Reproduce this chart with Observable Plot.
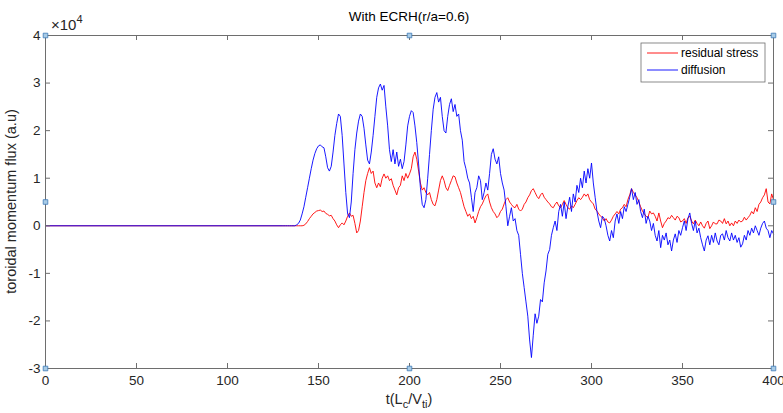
<!DOCTYPE html>
<html><head><meta charset="utf-8">
<script src="https://cdn.jsdelivr.net/npm/d3@7"></script>
<script src="https://cdn.jsdelivr.net/npm/@observablehq/plot@0.6"></script>
<style>
body{margin:0;background:#fff;font-family:"Liberation Sans",Arial,sans-serif}
#chart{width:783px;height:413px}
</style>
</head><body><div id="chart"></div>
<script>
// time grid: value at t=0, then one sample per unit from tStart to 400
const tStart = 130;
// residual stress (units of 1e4), t = 130 .. 400
const residual = [
0,0,0,0,0,0,0,0,0,0,0,0,                                  // 130-141
0.01,0.04,0.09,0.15,0.2,0.25,0.28,0.31,0.32,0.33,           // 142-151
0.3,0.31,0.26,0.24,0.21,0.22,0.15,0.1,0.02,-0.04,           // 152-161
0.02,0.06,0.02,0.1,0.2,0.27,0.2,0.22,0.05,-0.15,            // 162-171
-0.1,0.1,0.4,0.7,0.95,1.1,1.22,1.1,1.15,0.9,                // 172-181
0.8,0.9,0.82,1.0,1.09,1.0,1.05,0.95,0.99,0.85,              // 182-191
0.75,0.65,0.8,0.85,1.05,0.95,1.1,1.0,1.09,1.2,              // 192-201
1.45,1.55,1.4,1.15,0.9,0.75,0.8,0.7,0.65,0.7,               // 202-211
0.55,0.45,0.42,0.55,0.75,0.95,1.05,0.95,0.8,0.74,           // 212-221
0.85,0.95,1.05,1.03,0.9,0.8,0.7,0.55,0.4,0.3,               // 222-231
0.2,0.25,0.15,0.2,0.06,0.17,0.3,0.4,0.46,0.55,              // 232-241
0.63,0.67,0.5,0.38,0.3,0.25,0.17,0.21,0.3,0.35,             // 242-251
0.46,0.55,0.59,0.5,0.45,0.4,0.38,0.45,0.35,0.31,            // 252-261
0.35,0.45,0.5,0.59,0.65,0.74,0.78,0.7,0.62,0.57,            // 262-271
0.65,0.69,0.6,0.55,0.5,0.46,0.4,0.38,0.45,0.5,              // 272-281
0.42,0.38,0.45,0.53,0.45,0.38,0.35,0.42,0.38,0.45,          // 282-291
0.53,0.59,0.55,0.6,0.67,0.62,0.67,0.55,0.5,0.46,            // 292-301
0.35,0.31,0.25,0.2,0.17,0.1,0.15,0.08,0.06,0.12,            // 302-311
0.2,0.25,0.3,0.25,0.35,0.38,0.45,0.4,0.55,0.65,             // 312-321
0.78,0.7,0.65,0.59,0.5,0.4,0.31,0.25,0.2,0.17,              // 322-331
0.31,0.25,0.27,0.2,0.1,0.27,0.1,-0.04,0.05,0.1,             // 332-341
0.17,0.15,0.22,0.17,0.12,0.2,0.17,0.08,0.1,0.15,            // 342-351
0.05,0.17,0.2,0.1,0.04,0.12,0.05,0.0,0.08,0.0,              // 352-361
-0.05,0.05,0.1,-0.06,0.0,0.08,0.04,0.04,0.12,0.1,           // 362-371
0.05,0.15,0.04,0.1,0.0,0.06,0.0,0.1,0.05,0.12,              // 372-381
0.08,0.1,0.18,0.12,0.17,0.22,0.3,0.25,0.38,0.3,             // 382-391
0.45,0.5,0.59,0.65,0.78,0.5,0.46,0.67,0.55                  // 392-400
];
// diffusion (units of 1e4), t = 130 .. 400
const diffusion = [
0,0,0,0,0,0,0,0,                                            // 130-137
0.02,0.05,0.12,0.25,0.4,0.6,0.8,1.0,1.2,1.38,               // 138-147
1.52,1.62,1.68,1.7,1.66,1.64,1.45,1.22,1.15,1.25,           // 148-157
1.55,1.9,2.15,2.35,2.3,1.9,1.3,0.7,0.25,0.17,               // 158-167
0.5,1.1,1.6,1.95,2.2,2.35,2.3,2.05,1.7,1.38,                // 168-177
1.3,1.55,1.9,2.3,2.7,2.9,2.98,2.85,2.95,2.5,                // 178-187
2.1,1.6,1.35,1.6,1.3,1.55,1.25,1.4,1.2,1.35,                // 188-197
1.7,2.1,2.3,2.42,2.38,2.1,1.75,1.3,0.8,0.45,                // 198-207
0.38,0.55,1.0,1.5,2.0,2.45,2.7,2.8,2.6,2.7,                 // 208-217
2.3,2.0,1.95,2.3,2.55,2.67,2.4,2.55,2.3,2.35,               // 218-227
2.0,1.8,1.35,1.2,1.0,0.9,0.6,0.3,0.7,0.8,                   // 228-237
1.05,0.95,0.55,0.7,0.9,0.75,1.1,1.5,1.62,1.4,               // 238-247
1.3,1.45,1.1,0.9,0.75,0.4,0.0,0.2,0.38,0.1,                 // 248-257
0.15,-0.1,-0.2,-0.6,-1.0,-1.3,-1.6,-1.9,-2.4,-2.77,         // 258-267
-2.3,-1.85,-2.05,-1.9,-1.55,-1.6,-1.2,-0.95,-0.6,-0.5,      // 268-277
-0.2,-0.04,0.1,-0.1,0.3,0.45,0.2,0.5,0.15,0.4,              // 278-287
0.6,0.3,0.67,0.5,0.85,0.7,1.0,0.8,1.15,0.9,                 // 288-297
1.2,1.0,1.32,0.9,0.6,0.3,0.1,-0.04,0.2,0.15,                // 298-307
0.0,-0.2,-0.32,-0.1,-0.25,0.1,0.25,0.05,0.3,0.15,           // 308-317
0.4,0.3,0.45,0.6,0.78,0.55,0.7,0.45,0.55,0.3,               // 318-327
0.17,0.35,0.05,0.2,0.1,-0.1,0.05,-0.2,-0.32,-0.1,           // 328-337
-0.46,-0.2,-0.3,-0.15,-0.4,-0.3,-0.53,-0.3,-0.17,-0.35,     // 338-347
-0.1,-0.2,-0.04,0.1,-0.1,0.15,0.27,0.05,-0.1,0.1,           // 348-357
-0.15,-0.05,-0.25,-0.4,-0.53,-0.3,-0.21,-0.4,-0.2,-0.35,    // 358-367
-0.15,-0.32,-0.4,-0.2,-0.17,-0.3,-0.1,-0.25,-0.32,-0.15,    // 368-377
-0.3,-0.2,-0.35,-0.25,-0.45,-0.38,-0.2,-0.3,-0.1,-0.2,      // 378-387
-0.05,-0.15,0.0,-0.1,-0.2,-0.05,0.05,0.1,-0.05,-0.1,        // 388-397
-0.25,-0.1,-0.17                                            // 398-400
];
const seriesNames = ["residual stress", "diffusion"];
const seriesColors = ["#ff0000", "#0000ff"];
const xTicks = [0, 50, 100, 150, 200, 250, 300, 350, 400];
const yTicks = [-3, -2, -1, 0, 1, 2, 3, 4];
const titleText = "With ECRH(r/a=0.6)";
const yLabelText = "toroidal momentum flux (a.u)";
// MATLAB selection handles (data units)
const handles = [[0,-3],[200,-3],[400,-3],[0,4],[200,4],[400,4],[0,0.5],[400,0.5]];

function toRows(vals, name) {
  const r = [{t: 0, v: 0, s: name}];
  vals.forEach((v, i) => r.push({t: tStart + i, v, s: name}));
  return r;
}
const redRows = toRows(residual, seriesNames[0]);
const blueRows = toRows(diffusion, seriesNames[1]);

const W = 783, H = 413, mL = 45, mR = 10, mT = 35, mB = 45;
const innerW = W - mL - mR, innerH = H - mT - mB;
const axisColor = "#262626";

const plot = Plot.plot({
  width: W, height: H,
  marginLeft: mL, marginRight: mR, marginTop: mT, marginBottom: mB,
  style: {fontFamily: '"Liberation Sans", Arial, sans-serif', fontSize: "13px", color: axisColor, background: "#fff"},
  x: {domain: [0, 400]},
  y: {domain: [-3, 4]},
  marks: [
    Plot.line(redRows, {x: "t", y: "v", stroke: seriesColors[0], strokeWidth: 0.9}),
    Plot.line(blueRows, {x: "t", y: "v", stroke: seriesColors[1], strokeWidth: 0.9}),
    Plot.frame({stroke: "#6e6e6e", strokeWidth: 1}),
    Plot.tickX(xTicks, {x: d => d, insetTop: innerH - 5, stroke: "#6e6e6e"}),
    Plot.tickX(xTicks, {x: d => d, insetBottom: innerH - 5, stroke: "#6e6e6e"}),
    Plot.tickY(yTicks, {y: d => d, insetRight: innerW - 5, stroke: "#6e6e6e"}),
    Plot.tickY(yTicks, {y: d => d, insetLeft: innerW - 5, stroke: "#6e6e6e"}),
    Plot.axisX({ticks: xTicks, tickSize: 0, tickPadding: 7, fontSize: 13.5, label: null, tickFormat: d => String(d)}),
    Plot.axisY({ticks: yTicks, tickSize: 0, tickPadding: 5, fontSize: 13.5, label: null, tickFormat: d => String(d)}),
    Plot.dot(handles, {x: d => d[0], y: d => d[1], symbol: "square", r: 2.6, fill: "#a8cbe6", stroke: "#3d7ab8", strokeWidth: 0.8})
  ]
});
document.getElementById("chart").appendChild(plot);

const svg = d3.select(plot);
const font = '"Liberation Sans", Arial, sans-serif';
// title
svg.append("text").attr("x", mL + innerW / 2).attr("y", 21).attr("text-anchor", "middle")
  .attr("font-family", font).attr("font-size", 13.5).attr("fill", "#000").text(titleText);
// exponent
const ex = svg.append("text").attr("x", 51).attr("y", 30).attr("text-anchor", "start").attr("font-family", font)
  .attr("font-size", 15).attr("fill", axisColor);
ex.append("tspan").text("\u00d710");
ex.append("tspan").attr("dy", -7).attr("font-size", 11).text("4");
// y label
svg.append("text").attr("transform", `translate(16,${mT + innerH / 2}) rotate(-90)`)
  .attr("text-anchor", "middle").attr("font-family", font).attr("font-size", 14.5)
  .attr("fill", axisColor).text(yLabelText);
// x label with subscripts
const xl = svg.append("text").attr("x", mL + innerW / 2).attr("y", 404).attr("text-anchor", "middle")
  .attr("font-family", font).attr("font-size", 14.5).attr("fill", axisColor);
xl.append("tspan").text("t(L");
xl.append("tspan").attr("dy", 4).attr("font-size", 11).text("c");
xl.append("tspan").attr("dy", -4).text("/V");
xl.append("tspan").attr("dy", 4).attr("font-size", 11).text("ti");
xl.append("tspan").attr("dy", -4).text(")");
// legend
const lg = svg.append("g").attr("transform", "translate(641,43)");
lg.append("rect").attr("width", 124).attr("height", 39).attr("fill", "#fff").attr("stroke", "#6e6e6e").attr("stroke-width", 0.8);
seriesNames.forEach((name, i) => {
  const yy = 10 + i * 17;
  lg.append("line").attr("x1", 6).attr("x2", 37).attr("y1", yy).attr("y2", yy)
    .attr("stroke", seriesColors[i]).attr("stroke-width", 0.9);
  lg.append("text").attr("x", 40).attr("y", yy + 4).attr("text-anchor", "start").attr("font-family", font).attr("font-size", 12)
    .attr("fill", "#000").text(name);
});
</script>
</body></html>
